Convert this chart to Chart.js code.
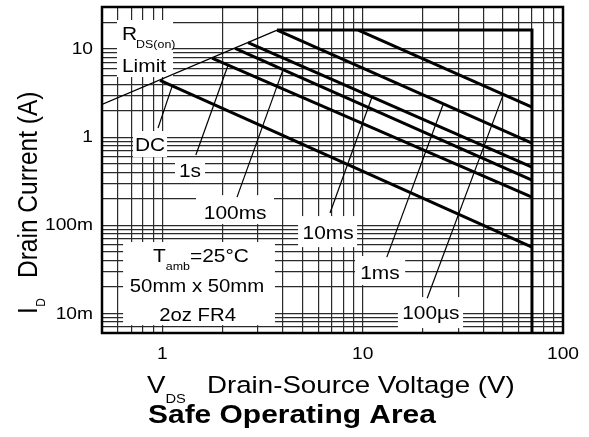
<!DOCTYPE html>
<html>
<head>
<meta charset="utf-8">
<script src="https://cdn.jsdelivr.net/npm/chart.js@4.4.0/dist/chart.umd.min.js"></script>
<style>
  html, body { margin: 0; padding: 0; background: #fff; }
  .wrap { width: 589px; height: 437px; position: relative; }
</style>
</head>
<body>
<div class="wrap"><canvas id="soa"></canvas></div>
<script>
// axis range (V, A)
const vMin = 0.5, vMax = 100;
const iMin = 0.006, iMax = 30;

// labelled ticks
const xTickValues = [1, 10, 100];
const xTickLabels = ['1', '10', '100'];
const yTickValues = [10, 1, 0.1, 0.01];
const yTickLabels = ['10', '1', '100m', '10m'];

// curves
const rdsV = [0.5, 3.74];
const rdsI = [2.35, 16.4];
const limitV = [3.74, 70, 70];
const limitI = [16.4, 16.4, 0.006];
const us100V = [9.5, 70];
const us100I = [16.4, 2.2];
const ms1V = [3.74, 70];
const ms1I = [16.4, 0.857];
const ms10V = [2.68, 70];
const ms10I = [11.8, 0.458];
const ms100V = [2.31, 70];
const ms100I = [10.2, 0.326];
const s1V = [1.77, 70];
const s1I = [7.9, 0.209];
const dcV = [0.974, 70];
const dcI = [4.4, 0.0567];

// leader lines from labels to curves
const leadDcV = [0.952, 1.118], leadDcI = [1.27, 3.75];
const lead1sV = [1.47, 2.13], lead1sI = [0.627, 6.59];
const lead100msV = [2.36, 4.0], lead100msI = [0.209, 5.8];
const lead10msV = [6.87, 11.1], lead10msI = [0.138, 2.8];
const lead1msV = [13.2, 25.2], lead1msI = [0.0436, 2.35];
const lead100usV = [21.0, 50.2], lead100usI = [0.0149, 3.0];

const FONT = '"Liberation Sans", Arial, Helvetica, sans-serif';
const SX = 1.13; // the source picture is a bit stretched sideways

// gridlines at 1..9 of every decade
function decadeGrid(lo, hi) {
  const out = [];
  for (let e = -3; e <= 2; e++) {
    for (let m = 1; m <= 9; m++) {
      const v = +(m * Math.pow(10, e)).toPrecision(3);
      if (v >= lo - 1e-9 && v <= hi + 1e-9) out.push(v);
    }
  }
  return out;
}
const xGrid = decadeGrid(vMin, vMax);
const yGrid = decadeGrid(iMin, iMax);

function pts(xs, ys) {
  return xs.map((x, k) => ({ x: x, y: ys[k] }));
}
function curve(xs, ys, w) {
  return {
    data: pts(xs, ys),
    showLine: true,
    borderColor: '#000',
    borderWidth: w,
    pointRadius: 0,
    tension: 0,
    borderCapStyle: 'butt',
    borderJoinStyle: 'miter'
  };
}

// white boxes behind labels [v0, v1, i0, i1]
const labelBoxes = [
  [0.594, 1.131, 21.35, 4.81],    // RDS(on) Limit
  [0.714, 1.056, 1.174, 0.595],   // DC
  [1.157, 1.634, 0.565, 0.326],   // 1s
  [1.474, 3.61, 0.220, 0.1033],   // 100ms
  [4.76, 9.38, 0.1273, 0.0566],   // 10ms
  [9.16, 16.3, 0.0448, 0.021],    // 1ms
  [15.0, 31.7, 0.01533, 0.00682], // 100us
  [0.637, 3.65, 0.0646, 0.00737]  // Tamb block
];

// simple centred labels
const notes = [
  { v: 0.868, i: 0.836, text: 'DC' },
  { v: 1.375, i: 0.424, text: '1s' },
  { v: 2.31, i: 0.141, text: '100ms' },
  { v: 6.72, i: 0.0838, text: '10ms' },
  { v: 12.2, i: 0.0295, text: '1ms' },
  { v: 21.9, i: 0.01035, text: '100\u00b5s' }
];

function txt(ctx, s, x, y, size, align, bold) {
  ctx.save();
  ctx.translate(x, y);
  ctx.scale(SX, 1);
  ctx.font = (bold ? 'bold ' : '') + size + 'px ' + FONT;
  ctx.textAlign = align || 'left';
  ctx.textBaseline = 'alphabetic';
  ctx.fillStyle = '#000';
  ctx.fillText(s, 0, 0);
  ctx.restore();
}
function width(ctx, s, size) {
  ctx.save();
  ctx.font = size + 'px ' + FONT;
  const w = ctx.measureText(s).width * SX;
  ctx.restore();
  return w;
}

const boxesPlugin = {
  id: 'boxes',
  beforeDatasetsDraw(chart) {
    const ctx = chart.ctx, xs = chart.scales.x, ys = chart.scales.y;
    ctx.save();
    ctx.fillStyle = '#fff';
    labelBoxes.forEach(b => {
      const x0 = xs.getPixelForValue(b[0]), x1 = xs.getPixelForValue(b[1]);
      const y0 = ys.getPixelForValue(b[2]), y1 = ys.getPixelForValue(b[3]);
      ctx.fillRect(x0, y0, x1 - x0, y1 - y0);
    });
    ctx.restore();
  },
  afterDatasetsDraw(chart) {
    const ctx = chart.ctx, xs = chart.scales.x, ys = chart.scales.y;
    const a = chart.chartArea;

    // frame
    ctx.save();
    ctx.strokeStyle = '#000';
    ctx.lineWidth = 2.5;
    ctx.strokeRect(a.left, a.top, a.right - a.left, a.bottom - a.top);
    ctx.restore();

    // labels inside the plot
    const fs = 18.5;
    notes.forEach(n => {
      txt(ctx, n.text, xs.getPixelForValue(n.v), ys.getPixelForValue(n.i) + 0.36 * fs, fs, 'center');
    });

    // RDS(on) Limit
    let x = xs.getPixelForValue(0.629), y = ys.getPixelForValue(15.2) + 0.36 * fs;
    txt(ctx, 'R', x, y, fs);
    txt(ctx, 'DS(on)', x + width(ctx, 'R', fs) - 1, y + 8, 11);
    txt(ctx, 'Limit', x, ys.getPixelForValue(6.59) + 0.36 * fs, fs);

    // ambient block
    x = xs.getPixelForValue(0.899);
    y = ys.getPixelForValue(0.0459) + 0.36 * fs;
    txt(ctx, 'T', x, y, fs);
    const xa = x + width(ctx, 'T', fs);
    txt(ctx, 'amb', xa, y + 8, 11);
    txt(ctx, '=25\u00b0C', xa + width(ctx, 'amb', 11), y, fs);
    txt(ctx, '50mm x 50mm', xs.getPixelForValue(1.49), ys.getPixelForValue(0.021) + 0.36 * fs, 18, 'center');
    txt(ctx, '2oz FR4', xs.getPixelForValue(1.5), ys.getPixelForValue(0.0098) + 0.36 * fs, 18, 'center');

    // tick labels
    const ts = 17;
    xTickValues.forEach((v, k) => {
      txt(ctx, xTickLabels[k], xs.getPixelForValue(v), a.bottom + 19.5 + 0.36 * ts, ts, 'center');
    });
    yTickValues.forEach((v, k) => {
      txt(ctx, yTickLabels[k], a.left - 9, ys.getPixelForValue(v) - 1 + 0.36 * ts, ts, 'right');
    });

    // x title
    const tt = 24.5;
    const xt = a.left + 45, yt = a.bottom + 60;
    txt(ctx, 'V', xt, yt, tt);
    txt(ctx, 'DS', xt + width(ctx, 'V', tt), yt + 10, 13);
    txt(ctx, 'Drain-Source Voltage (V)', xt + 60, yt, tt);

    // chart caption
    txt(ctx, 'Safe Operating Area', xt + 1, yt + 30, 26.5, 'left', true);

    // y title, rotated
    ctx.save();
    ctx.translate(37, a.bottom - 19);
    ctx.scale(SX, 1);
    ctx.rotate(-Math.PI / 2);
    ctx.fillStyle = '#000';
    ctx.textBaseline = 'alphabetic';
    ctx.font = tt + 'px ' + FONT;
    ctx.fillText('I', 0, 0);
    const wI = ctx.measureText('I').width;
    ctx.font = '12px ' + FONT;
    ctx.fillText('D', wI + 0.5, 7);
    ctx.font = tt + 'px ' + FONT;
    ctx.fillText('Drain Current (A)', 36, 0);
    ctx.restore();
  }
};

const gridOpts = { color: '#2a2a2a', lineWidth: 1.2, drawTicks: false };

new Chart(document.getElementById('soa').getContext('2d'), {
  type: 'scatter',
  data: {
    datasets: [
      curve(rdsV, rdsI, 1.2),
      curve(limitV, limitI, 3),
      curve(us100V, us100I, 3),
      curve(ms1V, ms1I, 3),
      curve(ms10V, ms10I, 3),
      curve(ms100V, ms100I, 3),
      curve(s1V, s1I, 3),
      curve(dcV, dcI, 3),
      curve(leadDcV, leadDcI, 1.2),
      curve(lead1sV, lead1sI, 1.2),
      curve(lead100msV, lead100msI, 1.2),
      curve(lead10msV, lead10msI, 1.2),
      curve(lead1msV, lead1msI, 1.2),
      curve(lead100usV, lead100usI, 1.2)
    ]
  },
  options: {
    responsive: true,
    maintainAspectRatio: false,
    animation: false,
    layout: {
      padding: { left: 0, right: 26, top: 7, bottom: 0 }
    },
    scales: {
      x: {
        type: 'logarithmic',
        min: vMin,
        max: vMax,
        grid: gridOpts,
        border: { display: false },
        ticks: { display: false },
        afterBuildTicks: s => { s.ticks = xGrid.map(v => ({ value: v })); },
        afterFit: s => { s.height = 104; }
      },
      y: {
        type: 'logarithmic',
        min: iMin,
        max: iMax,
        grid: gridOpts,
        border: { display: false },
        ticks: { display: false },
        afterBuildTicks: s => { s.ticks = yGrid.map(v => ({ value: v })); },
        afterFit: s => { s.width = 102; }
      }
    },
    plugins: {
      legend: { display: false },
      tooltip: { enabled: false }
    }
  },
  plugins: [boxesPlugin]
});
</script>
</body>
</html>
